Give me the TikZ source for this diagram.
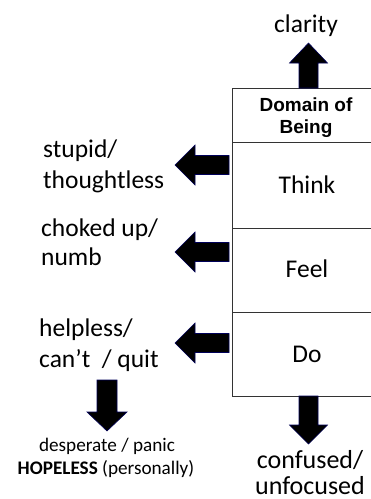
\documentclass[tikz,border=0pt]{standalone}
\usepackage{fontspec}
\setmainfont{Carlito}
\newfontfamily\arialfont{Liberation Sans}
\begin{document}
\begin{tikzpicture}[x=1pt,y=-1pt,
  lbl/.style={inner sep=0pt,anchor=base west,font=\fontsize{25.5}{30}\selectfont},
  mid/.style={inner sep=0pt,anchor=base,font=\fontsize{25.5}{30}\selectfont},
  small/.style={inner sep=0pt,anchor=base,font=\fontsize{19.2}{23}\selectfont},
  big/.style={inner sep=0pt,anchor=base,font=\fontsize{26}{31}\selectfont},
  head/.style={inner sep=0pt,anchor=base,font=\arialfont\bfseries\fontsize{19}{22}\selectfont},
  blk/.style={fill=black,draw=blue!35!black,line width=0.6pt,line join=miter},
  boxline/.style={draw=black!80,line width=0.9pt}]
\useasboundingbox (0,0) rectangle (371,499);
% box
\draw[boxline] (386,88) -- (232,88) -- (232,396) -- (386,396);
\draw[boxline] (232,142) -- (386,142);
\draw[boxline] (232,228) -- (386,228);
\draw[boxline] (232,312) -- (386,312);
% texts in box
\node[head] (dom1) at (306,111) {Domain of};
\node[head] (dom2) at (306,133) {Being};
\node[mid] (think) at (307,193) {Think};
\node[mid] (feel) at (307,277) {Feel};
\node[mid] (do) at (307,362) {Do};
\node[mid] (clar) at (306,32) {clarity};
% left texts
\node[lbl] (s1) at (43,157) {stupid/};
\node[lbl] (s2) at (43,188) {thoughtless};
\node[lbl] (c1) at (41,236) {choked up/};
\node[lbl] (c2) at (41,265) {numb};
\node[lbl] (h1) at (39,336) {helpless/};
\node[lbl] (h2) at (39,367) {can’t~ / quit};
\node[small] (d1) at (107,451) {desperate / panic};
\node[small] (d2) at (106,474) {\textbf{HOPELESS} (personally)};
\node[big] (u1) at (310,468) {confused/};
\node[big] (u2) at (310,494) {unfocused};
% left arrows
\foreach \cy in {165,252,343}{
  \filldraw[blk] (229,\cy-9.5) -- (195,\cy-9.5) -- (195,\cy-20) -- (175,\cy)
    -- (195,\cy+20) -- (195,\cy+9.5) -- (229,\cy+9.5) -- cycle;
}
% up arrow
\filldraw[blk] (299,88) -- (299,63) -- (289.5,63) -- (308.5,43) -- (327.5,63)
  -- (318,63) -- (318,88) -- cycle;
% down arrow under box
\filldraw[blk] (299,396) -- (299,425) -- (289.5,425) -- (308.5,444) -- (327.5,425)
  -- (318,425) -- (318,396) -- cycle;
% down arrow left
\filldraw[blk] (97,380) -- (97,412) -- (87,412) -- (107,431) -- (127,412)
  -- (117,412) -- (117,380) -- cycle;
\end{tikzpicture}
\end{document}
